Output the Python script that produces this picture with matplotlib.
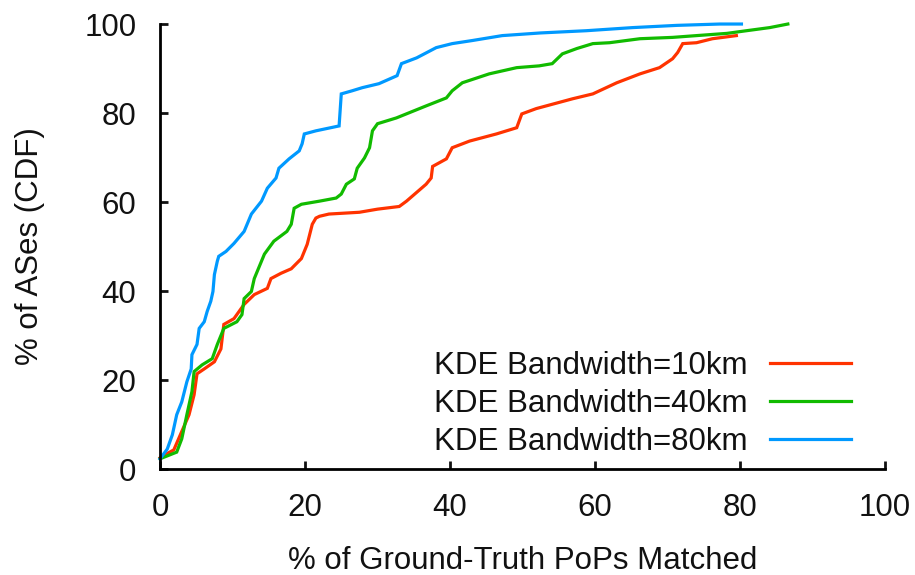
#Description
"""
CDF of ground-truth PoPs matched per AS for three KDE bandwidths.
"""

#Libraries
import matplotlib
matplotlib.use('Agg')
import matplotlib.pyplot as plt

#Data
bw10_x = [0, 1, 1.9, 4.0, 4.7, 5.1, 6.1, 7.5, 8.4, 8.8, 10.2, 11.6, 13, 14.8, 15.3, 16.7,
          18.1, 19.5, 20.3, 21, 21.5, 22, 23.3, 27.5, 30, 33, 34, 36.7, 37.4, 37.6, 39.5,
          40.3, 42.7, 46.4, 49.2, 49.9, 51.9, 56.9, 59.7, 63, 66.2, 68.9, 70.7, 71.4, 72.1,
          74, 76.2, 79.5]
bw10_y = [2.5, 3.5, 4.3, 12.2, 16.7, 21.4, 22.5, 24.1, 27, 32.5, 33.8, 37, 39.2, 40.6, 42.8,
          44, 45, 47.3, 50.5, 55, 56.4, 56.8, 57.3, 57.7, 58.4, 59, 60.2, 64, 65.4, 68, 69.7,
          72.2, 73.7, 75.3, 76.7, 79.8, 81, 83.2, 84.3, 86.8, 88.8, 90.2, 92.2, 93.6, 95.6,
          95.8, 96.7, 97.4]

bw40_x = [0, 2.3, 3.0, 3.7, 4.4, 4.7, 5.8, 7.2, 7.9, 8.8, 10.6, 11.3, 11.6, 12.6, 13, 14.4,
          15.7, 17.5, 18.1, 18.5, 19.5, 22, 24.3, 25, 25.7, 26.8, 27.2, 28.2, 28.9, 29.3, 30,
          32.6, 36.7, 39.5, 40.3, 41.7, 45.4, 49.2, 52.3, 54.1, 55.5, 57.5, 59.7, 62, 66.2,
          70.7, 74, 78.2, 80.9, 84.1, 86.6]
bw40_y = [2.3, 3.8, 6.8, 12.2, 17.4, 21.9, 23.4, 24.8, 28, 31.6, 33.1, 34.7, 38.3, 39.9, 42.8,
          48.3, 51.2, 53.4, 55, 58.6, 59.5, 60.2, 60.9, 61.8, 64, 65.2, 67.6, 69.9, 72.2, 76,
          77.6, 78.9, 81.6, 83.4, 85, 86.8, 88.8, 90.2, 90.6, 91.1, 93.3, 94.5, 95.6, 95.8,
          96.7, 97, 97.4, 97.9, 98.5, 99.2, 100]

bw80_x = [0, 1, 1.7, 2.3, 3, 3.7, 4.3, 4.4, 5.1, 5.4, 6.1, 6.5, 7, 7.3, 7.5, 7.9, 8.1, 9.1,
          10.2, 11.6, 12.6, 14, 14.8, 16, 16.4, 17.8, 19.2, 19.6, 19.9, 21.5, 24.7, 25, 26.5,
          27.9, 30.2, 32.7, 33.3, 35.4, 38.1, 40.3, 43.1, 47.2, 52.5, 58.8, 65.2, 71.3, 77.2,
          80.2]
bw80_y = [2.3, 4.5, 7.7, 12.2, 15.1, 19.6, 22.5, 25.7, 28, 31.6, 33.1, 35.4, 37.7, 39.9, 43.7,
          46.7, 47.8, 48.9, 50.7, 53.4, 57.3, 60.2, 63.1, 65.4, 67.6, 69.7, 71.5, 73.1, 75.3,
          76, 77.1, 84.3, 85, 85.7, 86.6, 88.4, 91.1, 92.4, 94.7, 95.6, 96.3, 97.4, 98, 98.5,
          99.2, 99.7, 100, 100]

labels = ['KDE Bandwidth=10km', 'KDE Bandwidth=40km', 'KDE Bandwidth=80km']
colors = ['#ff3300', '#11bb00', '#0099ff']
ticks = [0, 20, 40, 60, 80, 100]

#Plot
FS = 22.5
plt.rcParams['font.family'] = ['Liberation Sans', 'DejaVu Sans']
plt.rcParams['font.size'] = FS

fig = plt.figure(figsize=(9.15, 5.75), dpi=100)
ax = fig.add_axes([0.1749, 0.1843, 0.7923, 0.7739])

series = [(bw10_x, bw10_y), (bw40_x, bw40_y), (bw80_x, bw80_y)]
for (xs, ys), lab, col in zip(series, labels, colors):
    ax.plot(xs, ys, color=col, lw=2.3, label=lab, clip_on=False, solid_joinstyle='miter')

##Axes
ax.set_xlim(0, 100)
ax.set_ylim(0, 100)
ax.set_xticks(ticks)
ax.set_yticks(ticks)
ax.spines['top'].set_visible(False)
ax.spines['right'].set_visible(False)
for side in ['left', 'bottom']:
    ax.spines[side].set_linewidth(2.0)
ax.tick_params(direction='in', length=6, width=2.0, labelsize=FS, colors='#111111')
ax.tick_params(axis='x', pad=17)
ax.tick_params(axis='y', pad=17)
ax.set_xlabel('% of Ground-Truth PoPs Matched', fontsize=FS, labelpad=17, color='#111111')
ax.set_ylabel('% of ASes (CDF)', fontsize=FS, labelpad=28, color='#111111')

##Legend
ax.legend(loc='lower right', bbox_to_anchor=(0.953, 0.028), frameon=False,
          markerfirst=False, borderpad=0, borderaxespad=0, handlelength=2.6,
          handletextpad=0.7, labelspacing=0.25, fontsize=FS, labelcolor='#111111')

fig.savefig('out.png', dpi=100)
